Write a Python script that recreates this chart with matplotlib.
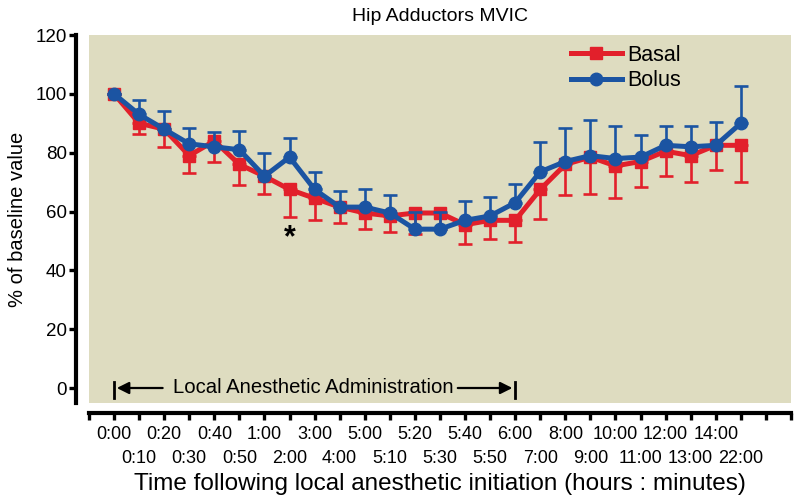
import matplotlib

matplotlib.use("Agg")
import matplotlib.pyplot as plt
from matplotlib.lines import Line2D

plt.rcParams["font.family"] = ["Liberation Sans", "DejaVu Sans"]

times = ["0:00", "0:10", "0:20", "0:30", "0:40", "0:50", "1:00", "2:00", "3:00", "4:00",
         "5:00", "5:10", "5:20", "5:30", "5:40", "5:50", "6:00", "7:00", "8:00", "9:00",
         "10:00", "11:00", "12:00", "13:00", "14:00", "22:00"]

basal = [100, 90, 88, 79, 84, 76, 72, 67.5, 64.5, 61.5,
         59.5, 58.5, 59.5, 59.5, 55.5, 57, 57, 67.5, 76, 78.5,
         75.5, 77, 80.5, 79, 82.5, 82.5]
basal_err = [0, 3.5, 6, 6, 7, 7, 6, 9.5, 7.5, 5.5,
             5.5, 5.5, 7, 5.5, 6.5, 6.5, 7.5, 10, 10.5, 12.5,
             11, 8.5, 8.5, 9, 8.5, 12.5]

bolus = [100, 93, 88, 83, 82, 81, 72, 78.5, 67.5, 61.5,
         61.5, 59.5, 54, 54, 57, 58.5, 63, 73.5, 77, 79,
         78, 78.5, 82.5, 82, 82.5, 90]
bolus_err = [0, 5, 6, 5.5, 5, 6.5, 8, 6.5, 6, 5.5,
             6, 6, 6, 6, 6.5, 6.5, 6.5, 10, 11.5, 12,
             11, 7.5, 6.5, 7, 8, 12.5]

red = "#e2202b"
blue = "#1b54a2"

fig = plt.figure(figsize=(8, 5.01), dpi=100)
ax = fig.add_axes([0.1112, 0.1956, 0.8775, 0.7345])
ax.set_facecolor("#dedcc0")

x = list(range(len(times)))
zero = [0] * len(x)

ax.errorbar(x, basal, yerr=[basal_err, zero], color=red, lw=3.6, marker="s", ms=8,
            elinewidth=1.9, capsize=4.7, capthick=1.9, zorder=3)
ax.errorbar(x, bolus, yerr=[zero, bolus_err], color=blue, lw=3.6, marker="o", ms=9,
            elinewidth=1.9, capsize=4.7, capthick=1.9, zorder=4)

ax.text(7, 51, "*", ha="center", va="center", fontsize=22, fontweight="bold")

# local anesthetic administration bracket
yb = 0
ax.plot([0, 0], [-3.4, 2.2], color="black", lw=2)
ax.plot([16, 16], [-3.4, 2.2], color="black", lw=2)
ax.annotate("", xy=(0, yb), xytext=(2.05, yb),
            arrowprops=dict(arrowstyle="-|>", color="black", lw=1.6, mutation_scale=18))
ax.annotate("", xy=(16, yb), xytext=(13.6, yb),
            arrowprops=dict(arrowstyle="-|>", color="black", lw=1.6, mutation_scale=18))
ax.text(7.95, yb + 0.3, "Local Anesthetic Administration", ha="center", va="center",
        fontsize=14.6)

ax.set_xlim(-1, 27)
ax.set_ylim(-5.1, 120)
ax.set_yticks([0, 20, 40, 60, 80, 100, 120])

# two staggered rows of time labels: even points on top (major), odd below (minor)
top = x[0::2]
bottom = x[1::2]
ax.set_xticks(top)
ax.set_xticklabels([times[i] for i in top])
ax.set_xticks([-1] + bottom + [26, 27], minor=True)
ax.set_xticklabels([""] + [times[i] for i in bottom] + ["", ""], minor=True)
ax.tick_params(axis="y", labelsize=13.5, width=2.4, length=5, pad=2)
ax.tick_params(axis="x", which="both", labelsize=13, width=2.4, length=5)
ax.tick_params(axis="x", which="major", pad=4.5)
ax.tick_params(axis="x", which="minor", pad=21.5)

for s in ("top", "right"):
    ax.spines[s].set_visible(False)
ax.spines["left"].set_linewidth(3)
ax.spines["left"].set_position(("outward", 9))
ax.spines["bottom"].set_linewidth(3)
ax.spines["bottom"].set_position(("outward", 7))

ax.set_title("Hip Adductors MVIC", fontsize=14, pad=10)
ax.set_ylabel("% of baseline value", fontsize=14.5, labelpad=6)
ax.set_xlabel("Time following local anesthetic initiation (hours : minutes)", fontsize=17.5,
              labelpad=5)

handles = [Line2D([], [], color=red, lw=3.6, marker="s", ms=8),
           Line2D([], [], color=blue, lw=3.6, marker="o", ms=9)]
ax.legend(handles, ["Basal", "Bolus"], loc="upper left", bbox_to_anchor=(0.68, 0.985),
          frameon=False, fontsize=15.5, handlelength=2.4, handletextpad=0.25,
          labelspacing=0.2, borderaxespad=0.1, borderpad=0.1)

fig.savefig("out.png", dpi=100)
